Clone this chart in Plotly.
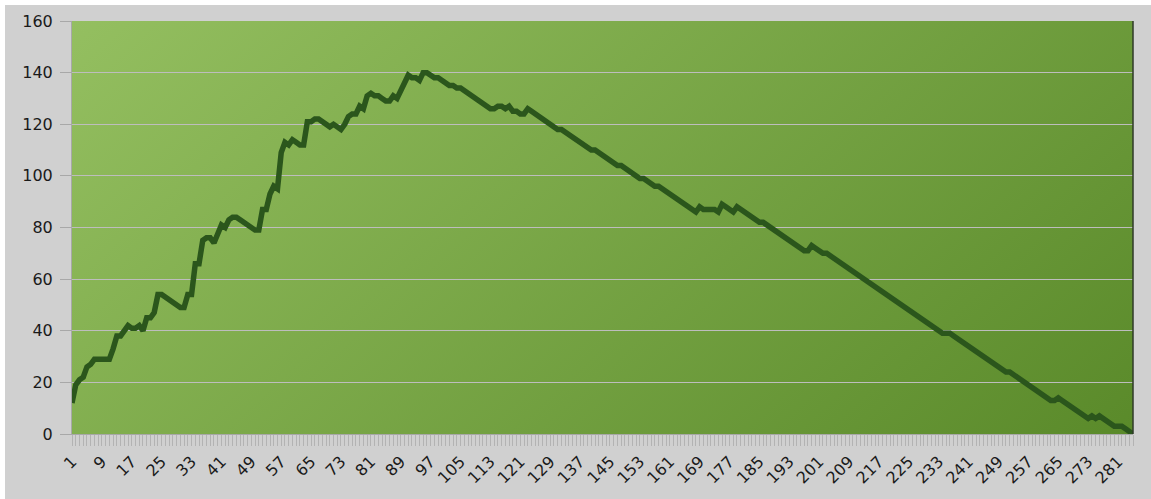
import base64
import plotly.graph_objects as go

# ---- data ----
categories = list(range(1, 286))
values = [
    12, 19, 21, 22, 26, 27, 29, 29, 29, 29,
    29, 33, 38, 38, 40, 42, 41, 41, 42, 40,
    45, 45, 47, 54, 54, 53, 52, 51, 50, 49,
    49, 54, 54, 66, 66, 75, 76, 76, 74, 77,
    81, 80, 83, 84, 84, 83, 82, 81, 80, 79,
    79, 87, 87, 93, 96, 95, 109, 113, 112, 114,
    113, 112, 112, 121, 121, 122, 122, 121, 120, 119,
    120, 119, 118, 120, 123, 124, 124, 127, 126, 131,
    132, 131, 131, 130, 129, 129, 131, 130, 133, 137,
    139, 138, 138, 137, 140, 140, 139, 138, 138, 137,
    136, 135, 135, 134, 134, 133, 132, 131, 130, 129,
    128, 127, 126, 126, 127, 127, 126, 127, 125, 125,
    124, 124, 126, 125, 124, 123, 122, 121, 120, 119,
    118, 118, 117, 116, 115, 114, 113, 112, 111, 110,
    110, 109, 108, 107, 106, 105, 104, 104, 103, 102,
    101, 100, 99, 99, 98, 97, 96, 96, 95, 94,
    93, 92, 91, 90, 89, 88, 87, 86, 88, 87,
    87, 87, 87, 86, 89, 88, 87, 86, 88, 87,
    86, 85, 84, 83, 82, 82, 81, 80, 79, 78,
    77, 76, 75, 74, 73, 72, 71, 71, 73, 72,
    71, 70, 70, 69, 68, 67, 66, 65, 64, 63,
    62, 61, 60, 59, 58, 57, 56, 55, 54, 53,
    52, 51, 50, 49, 48, 47, 46, 45, 44, 43,
    42, 41, 40, 39, 39, 39, 38, 37, 36, 35,
    34, 33, 32, 31, 30, 29, 28, 27, 26, 25,
    24, 24, 23, 22, 21, 20, 19, 18, 17, 16,
    15, 14, 13, 13, 14, 13, 12, 11, 10, 9,
    8, 7, 6, 7, 6, 7, 6, 5, 4, 3,
    3, 3, 2, 1, 0,
]
x_tick_values = categories[::8]
x_tick_labels = [str(c) for c in x_tick_values]
y_tick_values = [0, 20, 40, 60, 80, 100, 120, 140, 160]

# ---- styling ----
W, H = 1151, 499
ML, MR, MT, MB = 72, 18, 20, 63
PW, PH = W - ML - MR, H - MT - MB
FONT = "DejaVu Sans"

svg = (
    f'<svg xmlns="http://www.w3.org/2000/svg" width="{PW}" height="{PH}" '
    f'viewBox="0 0 {PW} {PH}" preserveAspectRatio="none">'
    '<defs><linearGradient id="g" x1="0" y1="0" x2="1.207" y2="0.517">'
    '<stop offset="0" stop-color="#94bf60"/>'
    '<stop offset="1" stop-color="#5a8a2a"/>'
    '</linearGradient></defs>'
    f'<rect x="0" y="0" width="{PW}" height="{PH}" fill="url(#g)"/></svg>'
)
svg_uri = "data:image/svg+xml;base64," + base64.b64encode(svg.encode()).decode()

fig = go.Figure()
fig.add_trace(go.Scatter(
    x=categories, y=values, mode="lines",
    line=dict(color="#2b561c", width=5.5),
    hoverinfo="x+y", showlegend=False,
))

fig.update_layout(
    width=W, height=H,
    margin=dict(l=ML, r=MR, t=MT, b=MB, pad=0),
    paper_bgcolor="#d0d0d0",
    plot_bgcolor="rgba(0,0,0,0)",
    font=dict(family=FONT, size=16, color="#1a1a1a"),
    images=[dict(
        source=svg_uri, xref="paper", yref="paper",
        x=0, y=1, sizex=1, sizey=1, xanchor="left", yanchor="top",
        sizing="stretch", layer="below",
    )],
    shapes=[
        # white strips at top and left of the frame
        dict(type="rect", xref="paper", yref="paper",
             x0=-0.2, x1=1.2, y0=1 + (MT - 4) / PH, y1=1.2,
             fillcolor="white", line=dict(width=0), layer="below"),
        dict(type="rect", xref="paper", yref="paper",
             x0=-0.2, x1=-(ML - 5) / PW, y0=-0.3, y1=1.2,
             fillcolor="white", line=dict(width=0), layer="below"),
        # dark right edge of the plot area
        dict(type="line", xref="paper", yref="paper",
             x0=1, x1=1, y0=0, y1=1,
             line=dict(color="#2f3a28", width=1.5), layer="above"),
    ],
    xaxis=dict(
        range=[1, 285],
        tickmode="array", tickvals=x_tick_values, ticktext=x_tick_labels,
        tickangle=-45,
        ticks="outside", ticklen=11, tickcolor="#b3b3b3", tickwidth=1,
        minor=dict(tickmode="linear", tick0=1, dtick=1, ticks="outside",
                   ticklen=11, tickcolor="#b3b3b3", tickwidth=1, showgrid=False),
        showgrid=False, zeroline=False,
        showline=True, linecolor="#a8a8a8", linewidth=1,
        tickfont=dict(family=FONT, size=16, color="#1a1a1a"),
    ),
    yaxis=dict(
        range=[0, 160], tickmode="array", tickvals=y_tick_values,
        ticks="outside", ticklen=11, tickcolor="#a8a8a8", tickwidth=1,
        showgrid=True, gridcolor="#bdbdbd", gridwidth=1,
        zeroline=False,
        showline=True, linecolor="#a8a8a8", linewidth=1,
        ticklabelstandoff=4,
        tickfont=dict(family=FONT, size=16, color="#1a1a1a"),
    ),
)

fig.write_html(
    "out.html",
    config={"displayModeBar": False},
    post_script="document.body.style.margin='0';document.body.style.overflow='hidden';",
)
